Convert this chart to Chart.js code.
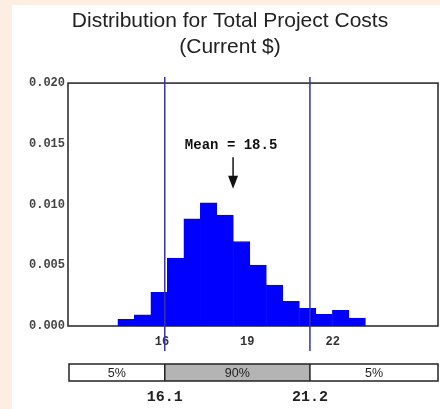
<!DOCTYPE html>
<html>
<head>
<meta charset="utf-8">
<script src="https://cdn.jsdelivr.net/npm/chart.js@4/dist/chart.umd.min.js"></script>
<style>
  html, body { margin: 0; padding: 0; background: #fdeee3; }
  #wrap { width: 440px; height: 409px; }
</style>
</head>
<body>
<div id="wrap"><canvas id="costChart" width="440" height="409"></canvas></div>
<script>
// Histogram data
const binCenters = [14.74, 15.32, 15.90, 16.48, 17.06, 17.64, 18.22, 18.80, 19.38, 19.96, 20.54, 21.12, 21.70, 22.28, 22.86];
const density = [0.00055, 0.00091, 0.00278, 0.00559, 0.00883, 0.01015, 0.00913, 0.00696, 0.00501, 0.00336, 0.00204, 0.00146, 0.00097, 0.0013, 0.00066];
const xTickValues = [16, 19, 22];
const yTickStep = 0.005;
const percentileMarks = [16.1, 21.2];
const percentileLabels = ['5%', '90%', '5%'];
const meanValue = 18.5;

const monoFont = '"Liberation Mono", "DejaVu Sans Mono", monospace';
const sansFont = '"Liberation Sans", Arial, sans-serif';

// Peach page with white panel behind the chart
const panelBackground = {
    id: 'panelBackground',
    beforeDraw(chart) {
        const ctx = chart.ctx;
        ctx.save();
        ctx.fillStyle = '#fdeee3';
        ctx.fillRect(0, 0, chart.width, chart.height);
        ctx.fillStyle = '#ffffff';
        ctx.fillRect(12, 5, chart.width - 12, chart.height - 5);
        ctx.restore();
    }
};

// Frame, percentile lines, mean arrow and the percentile strip
const riskOverlay = {
    id: 'riskOverlay',
    afterDraw(chart) {
        const ctx = chart.ctx;
        const area = chart.chartArea;
        const xs = chart.scales.x;
        const ys = chart.scales.y;
        ctx.save();

        // plot frame
        ctx.strokeStyle = '#222';
        ctx.lineWidth = 1.5;
        ctx.strokeRect(area.left, area.top, area.right - area.left, area.bottom - area.top);

        // percentile lines
        ctx.strokeStyle = '#3434a8';
        ctx.lineWidth = 1.5;
        percentileMarks.forEach(v => {
            const px = xs.getPixelForValue(v);
            ctx.beginPath();
            ctx.moveTo(px, area.top - 6);
            ctx.lineTo(px, area.bottom + 25);
            ctx.stroke();
        });

        // mean label + arrow
        const mx = xs.getPixelForValue(meanValue);
        ctx.fillStyle = '#111';
        ctx.font = 'bold 14px ' + monoFont;
        ctx.textAlign = 'center';
        ctx.textBaseline = 'middle';
        ctx.fillText('Mean = ' + meanValue, mx - 2, ys.getPixelForValue(0.0149));
        const a0 = ys.getPixelForValue(0.0139);
        const a1 = ys.getPixelForValue(0.0113);
        ctx.strokeStyle = '#111';
        ctx.lineWidth = 1.5;
        ctx.beginPath();
        ctx.moveTo(mx, a0);
        ctx.lineTo(mx, a1 - 8);
        ctx.stroke();
        ctx.beginPath();
        ctx.moveTo(mx - 5, a1 - 13);
        ctx.lineTo(mx + 5, a1 - 13);
        ctx.lineTo(mx, a1);
        ctx.closePath();
        ctx.fill();

        // percentile strip
        const top = area.bottom + 38;
        const h = 17;
        const left = area.left + 1;
        const right = area.right;
        const p0 = xs.getPixelForValue(percentileMarks[0]);
        const p1 = xs.getPixelForValue(percentileMarks[1]);
        ctx.fillStyle = '#ffffff';
        ctx.fillRect(left, top, right - left, h);
        ctx.fillStyle = '#b4b4b4';
        ctx.fillRect(p0, top, p1 - p0, h);
        ctx.strokeStyle = '#222';
        ctx.lineWidth = 1.5;
        ctx.strokeRect(left, top, right - left, h);
        ctx.beginPath();
        ctx.moveTo(p0, top); ctx.lineTo(p0, top + h);
        ctx.moveTo(p1, top); ctx.lineTo(p1, top + h);
        ctx.stroke();

        const segs = [[left, p0], [p0, p1], [p1, right]];
        ctx.fillStyle = '#222';
        ctx.font = '12.5px ' + sansFont;
        segs.forEach((s, i) => {
            ctx.fillText(percentileLabels[i], (s[0] + s[1]) / 2, top + h / 2 + 1);
        });

        ctx.fillStyle = '#222';
        ctx.font = 'bold 15px ' + monoFont;
        percentileMarks.forEach(v => {
            ctx.fillText(v.toFixed(1), xs.getPixelForValue(v), top + h + 16);
        });
        ctx.restore();
    }
};

new Chart(document.getElementById('costChart'), {
    type: 'bar',
    data: {
        datasets: [{
            data: binCenters.map((x, i) => ({ x: x, y: density[i] })),
            backgroundColor: '#0000ff',
            borderColor: '#0000ff',
            borderWidth: 1,
            borderSkipped: 'start',
            barPercentage: 1,
            categoryPercentage: 1
        }]
    },
    options: {
        responsive: false,
        animation: false,
        events: [],
        layout: { padding: { left: 22, right: 2, top: 0, bottom: 0 } },
        plugins: {
            legend: { display: false },
            tooltip: { enabled: false },
            title: {
                display: true,
                text: ['Distribution for Total Project Costs', '(Current $)'],
                color: '#222',
                font: { family: sansFont, size: 21, weight: 'normal', lineHeight: 1.24 },
                padding: { top: 8, bottom: 23 }
            }
        },
        scales: {
            x: {
                type: 'linear',
                min: 12.7,
                max: 25.7,
                offset: false,
                grid: { display: false, drawTicks: false },
                border: { display: false },
                afterBuildTicks(scale) {
                    scale.ticks = xTickValues.map(v => ({ value: v }));
                },
                afterFit(scale) { scale.height = 83; },
                ticks: {
                    padding: 9,
                    maxRotation: 0,
                    color: '#333',
                    font: { family: monoFont, size: 12, weight: 'bold' }
                }
            },
            y: {
                min: 0,
                max: 0.02,
                grid: { display: false, drawTicks: false },
                border: { display: false },
                afterFit(scale) { scale.width = 46; },
                ticks: {
                    stepSize: yTickStep,
                    padding: 3,
                    color: '#444',
                    font: { family: monoFont, size: 12, weight: 'bold' },
                    callback: v => Number(v).toFixed(3)
                }
            }
        }
    },
    plugins: [panelBackground, riskOverlay]
});
</script>
</body>
</html>
